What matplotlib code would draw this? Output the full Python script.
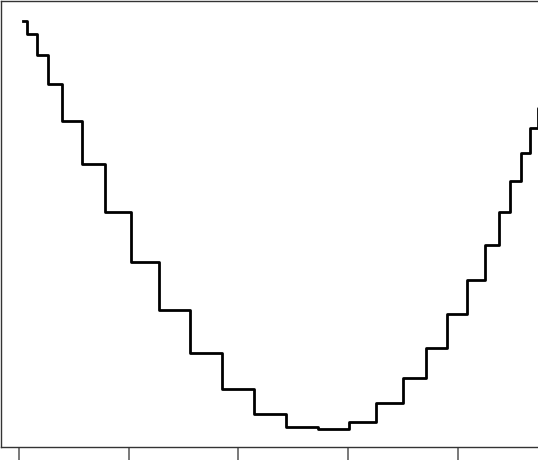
import matplotlib
matplotlib.use('Agg')
import matplotlib.pyplot as plt
import numpy as np

# step edges (x) and levels (y)
x_edges = [0.036, 0.076, 0.164, 0.270, 0.398, 0.580, 0.787, 1.025, 1.277,
           1.563, 1.849, 2.141, 2.436, 2.724, 3.005, 3.254, 3.497, 3.710,
           3.901, 4.084, 4.242, 4.369, 4.473, 4.571, 4.656, 4.732, 4.802]
y_levels = [0.956, 0.927, 0.879, 0.815, 0.732, 0.635, 0.526, 0.414, 0.307,
            0.210, 0.131, 0.075, 0.045, 0.040, 0.057, 0.098, 0.154, 0.221,
            0.298, 0.375, 0.453, 0.527, 0.596, 0.659, 0.715, 0.759]
x_ticks = [0, 1, 2, 3, 4]

fig = plt.figure(figsize=(5.38, 4.73), dpi=100)
ax = fig.add_axes([1/538, 26/473, 540/538, 446/473])

ax.step(x_edges, y_levels + [y_levels[-1]], where='post', color='black', lw=2)

ax.set_xlim(-0.1615, 4.755)
ax.set_ylim(0, 1)
ax.set_xticks(x_ticks)
ax.set_xticklabels([])
ax.set_yticks([])
ax.tick_params(axis='x', direction='out', length=9.5, width=1.1, color='#555555')
for s in ['left', 'top', 'bottom']:
    ax.spines[s].set_color('#333333')
    ax.spines[s].set_linewidth(1.0)
ax.spines['right'].set_visible(False)

fig.savefig('out.png', dpi=100)
